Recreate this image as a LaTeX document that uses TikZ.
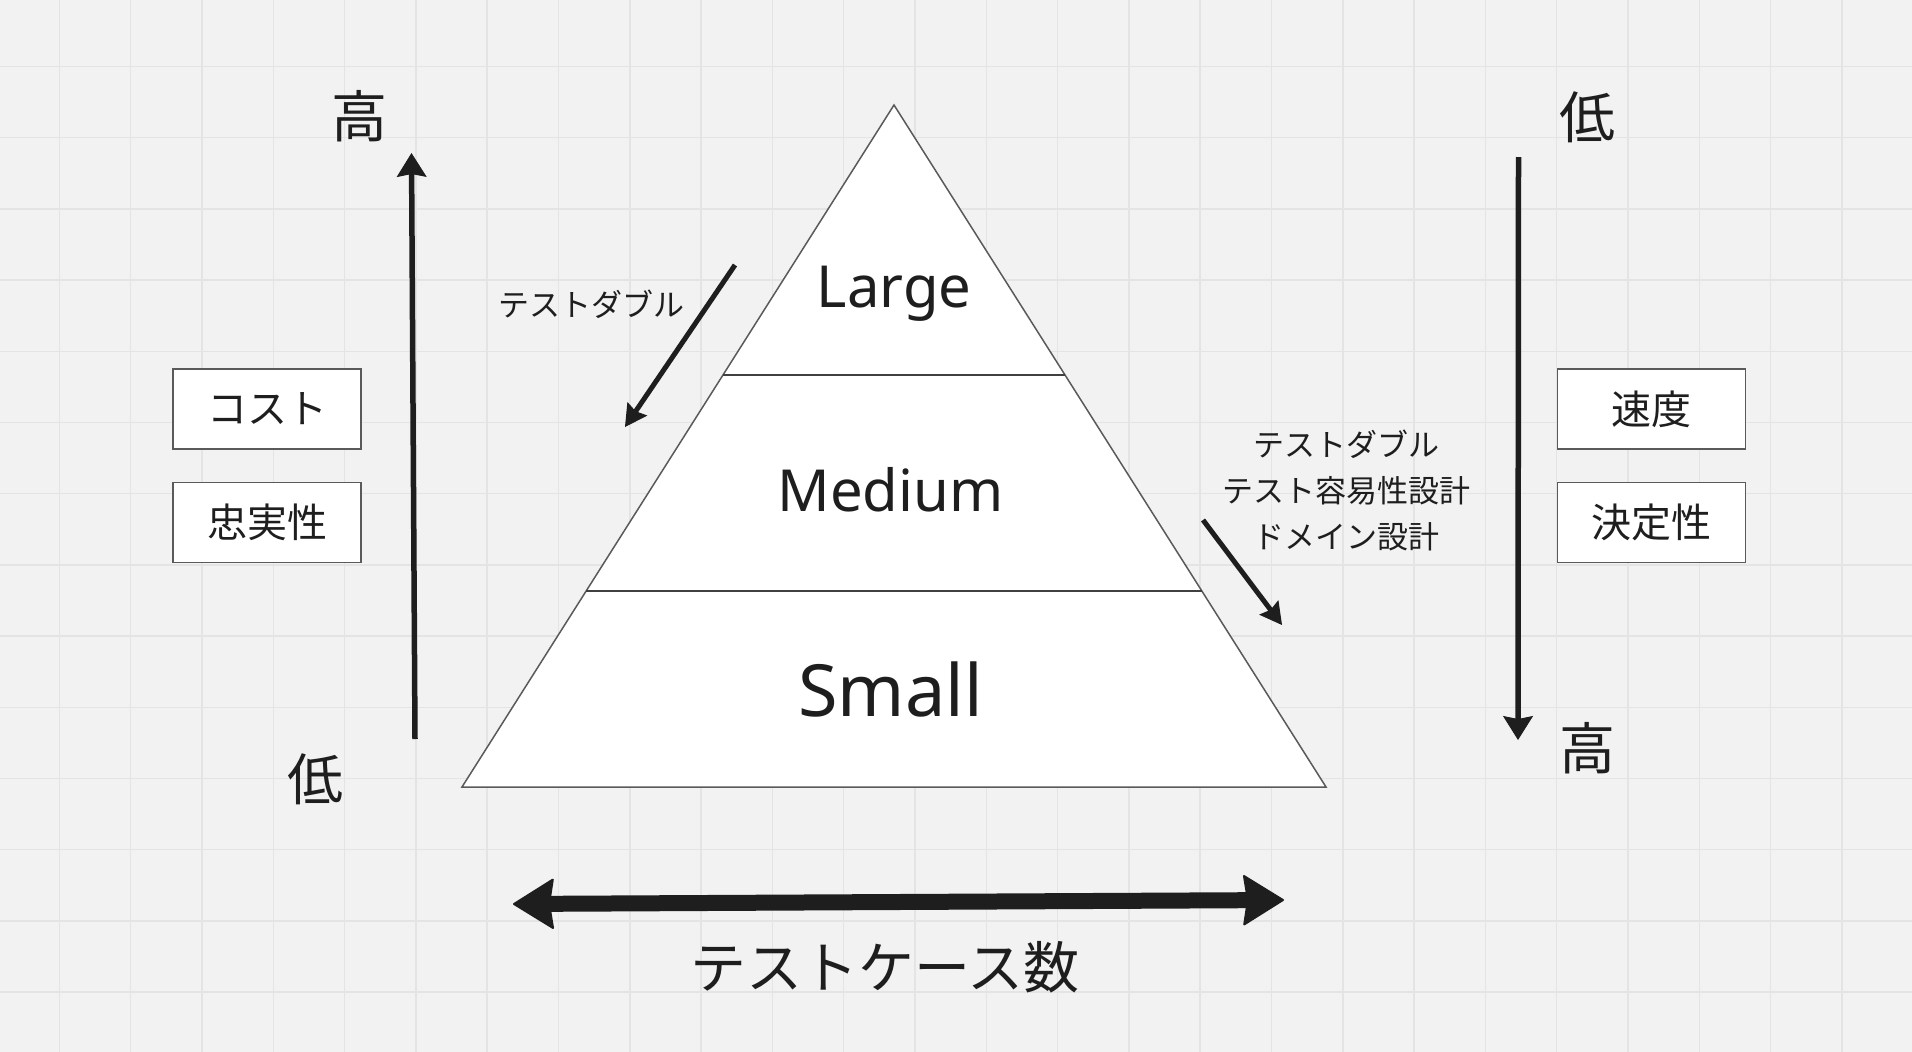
\documentclass[tikz,border=0pt]{standalone}
\usepackage{fontspec}
\setmainfont{Noto Sans}
\newfontfamily\jp{Noto Sans CJK JP}
\usetikzlibrary{arrows.meta,calc}
\definecolor{bg}{HTML}{F2F2F2}
\definecolor{gridc}{HTML}{E4E4E4}
\definecolor{ink}{HTML}{1E1E1E}
\definecolor{edgec}{HTML}{5A5A5A}
\tikzset{
  gridline/.style={draw=gridc, line width=1.5pt},
  tri/.style={draw=edgec, fill=white, line width=1.5pt, line join=miter},
  divider/.style={draw=ink!85, line width=2.8pt},
  lbl/.style={text=ink, inner sep=0pt, anchor=base},
  catbox/.style={draw=edgec, fill=white, line width=1.6pt, minimum width=188pt, minimum height=80pt, inner sep=0pt, text=ink, font=\jp\fontsize{40}{44}\selectfont},
  vaxis/.style={draw=ink, line width=5.5pt, -{Stealth[length=24pt,width=30pt,inset=3pt,line width=1pt]}},
  darr/.style={draw=ink, line width=5pt, -{Stealth[length=22pt,width=24pt,inset=3pt,line width=1pt]}},
  countarr/.style={draw=ink, line width=16pt, {Stealth[length=42pt,width=52pt,inset=4pt,line width=2pt,round]}-{Stealth[length=42pt,width=52pt,inset=4pt,line width=2pt,round]}},
}
\begin{document}
\begin{tikzpicture}[x=1pt,y=-1pt]
\useasboundingbox (0,0) rectangle (1912,1052);
\fill[bg] (0,0) rectangle (1912,1052);
\foreach \i in {0,...,26} \draw[gridline] ({59.4+71.3*\i},0) -- ({59.4+71.3*\i},1052);
\foreach \j in {0,...,13} \draw[gridline] (0,{66.5+71.2*\j}) -- (1912,{66.5+71.2*\j});

% pyramid
\coordinate (apex) at (894,105);
\coordinate (bl) at (462,787);
\coordinate (br) at (1326,787);
\draw[tri] (apex) -- (bl) -- (br) -- cycle;
\coordinate (d1l) at ($(apex)!0.396!(bl)$);
\coordinate (d1r) at ($(apex)!0.396!(br)$);
\coordinate (d2l) at ($(apex)!0.7126!(bl)$);
\coordinate (d2r) at ($(apex)!0.7126!(br)$);
\draw[divider] (d1l) -- (d1r);
\draw[divider] (d2l) -- (d2r);

\node[lbl, font=\fontsize{58}{60}\selectfont] (large) at (894,307) {Large};
\node[lbl, font=\fontsize{58}{60}\selectfont] (medium) at (890.5,511.5) {Medium};
\node[lbl, font=\fontsize{72}{76}\selectfont] (small) at (890.5,716.5) {Small};

% left axis
\node[lbl, font=\jp\fontsize{56}{60}\selectfont] (hiL) at (359,137) {高};
\node[lbl, font=\jp\fontsize{56}{60}\selectfont] (loL) at (315,800) {低};
\coordinate (laxB) at (415,739);
\coordinate (laxT) at (411.5,153);
\draw[vaxis] (laxB) -- (laxT);
\node[catbox] (cost) at (267,409) {コスト};
\node[catbox] (fid) at (267,522.5) {忠実性};

% right axis
\node[lbl, font=\jp\fontsize{56}{60}\selectfont] (loR) at (1587,138) {低};
\node[lbl, font=\jp\fontsize{56}{60}\selectfont] (hiR) at (1587,769) {高};
\coordinate (raxT) at (1518.5,157);
\coordinate (raxB) at (1518,740);
\draw[vaxis] (raxT) -- (raxB);
\node[catbox] (speed) at (1651.5,409) {速度};
\node[catbox] (det) at (1651.5,522.5) {決定性};

% annotations
\node[lbl, font=\jp\fontsize{31}{46}\selectfont] (tdL) at (591,316) {テストダブル};
\coordinate (ldS) at (735,265);
\coordinate (ldE) at (625,427);
\draw[darr] (ldS) -- (ldE);

\node[lbl, align=center, font=\jp\fontsize{31}{46}\selectfont] (tdR) at (1346,548) {テストダブル\\テスト容易性設計\\ドメイン設計};
\coordinate (rdS) at (1203,520);
\coordinate (rdE) at (1282,625);
\draw[darr] (rdS) -- (rdE);

% bottom
\coordinate (cL) at (513,904);
\coordinate (cR) at (1284,900);
\draw[countarr] (cL) -- (cR);
\node[lbl, font=\jp\fontsize{56}{60}\selectfont] (count) at (885,988) {テストケース数};
\end{tikzpicture}
\end{document}
